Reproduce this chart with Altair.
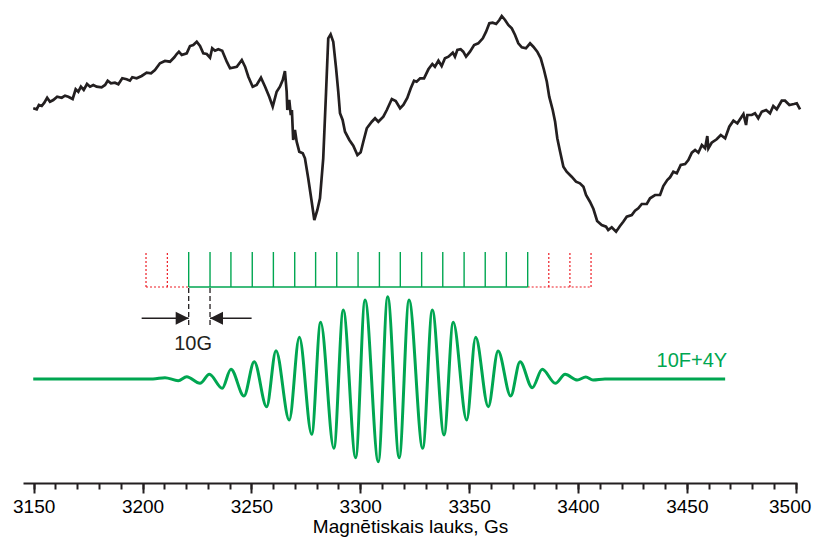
import altair as alt
import pandas as pd

# ---------------- data ----------------
# Experimental EPR spectrum (black): magnetic field (Gs) and signal (arb. units)
exp_field = [
    3149.8, 3151.4, 3152.4, 3153.7, 3154.9, 3156.2, 3157.5, 3159.0, 3160.8, 3162.9,
    3164.4, 3165.9, 3167.9, 3169.3, 3170.5, 3171.7, 3173.0, 3174.5, 3175.9, 3177.4,
    3178.9, 3181.2, 3182.8, 3184.0, 3185.5, 3187.3, 3188.9, 3190.7, 3192.7, 3194.2,
    3195.3, 3197.3, 3199.6, 3201.9, 3203.9, 3205.7, 3208.0, 3210.3, 3212.6, 3214.6,
    3215.7, 3216.7, 3218.0, 3220.3, 3221.8, 3223.3, 3224.9, 3226.4, 3227.9, 3229.5,
    3231.0, 3232.0, 3233.3, 3234.8, 3236.6, 3238.7, 3240.2,
    3243.3, 3245.6, 3247.1, 3248.6, 3250.6, 3252.4, 3254.4, 3256.3, 3258.2, 3259.8,
    3261.6, 3263.1, 3264.4, 3265.4, 3266.2, 3266.5, 3267.4, 3268.1, 3268.6, 3269.2,
    3270.0, 3270.8, 3272.0, 3273.6, 3274.6, 3276.1, 3277.7, 3278.9, 3280.3, 3281.5,
    3283.0, 3284.3, 3285.3, 3286.4, 3287.6, 3288.9, 3289.9, 3290.7, 3291.9, 3293.0,
    3295.0, 3296.8, 3298.7, 3300.2, 3301.4, 3303.0, 3305.3, 3306.8, 3308.3, 3310.6,
    3312.2, 3314.5, 3316.3, 3318.3, 3319.8, 3321.6, 3323.2,
    3324.7, 3325.9, 3327.5, 3329.3, 3331.3, 3333.1, 3334.3, 3335.9, 3337.4, 3338.9,
    3340.5, 3342.5, 3343.5, 3344.6, 3346.1, 3347.3, 3348.6, 3350.4, 3352.3, 3354.2,
    3356.3, 3357.8, 3359.3, 3360.8, 3362.4, 3363.9, 3365.0, 3366.5, 3368.0, 3369.6,
    3371.1, 3372.6, 3374.2, 3376.1, 3378.0, 3379.5, 3381.3, 3382.9, 3384.4, 3385.7,
    3386.8, 3388.4, 3389.5, 3390.5, 3391.8, 3393.3, 3394.8, 3397.1, 3399.1, 3400.9,
    3402.5, 3403.7, 3405.5, 3407.1, 3408.8,
    3410.9, 3412.9, 3413.9, 3415.5, 3417.5, 3419.3, 3420.8, 3422.4, 3424.7, 3426.2,
    3427.7, 3429.3, 3431.6, 3433.1, 3435.4, 3437.7, 3439.2, 3441.0, 3442.3, 3443.8,
    3445.4, 3447.2, 3449.2, 3450.7, 3452.3, 3453.8, 3455.3, 3456.9, 3458.4, 3459.4,
    3459.9, 3461.4, 3463.7, 3465.6, 3467.6, 3469.5, 3471.4, 3473.2, 3476.0, 3477.2,
    3477.8, 3479.8, 3481.3, 3482.8, 3484.4, 3486.4, 3488.2, 3489.7, 3491.3, 3493.6,
    3495.1, 3497.1, 3499.2, 3500.5, 3502.0,
]
exp_signal = [
    374.7, 373.7, 378, 377, 380.3, 385.3, 381.3, 383, 386.3, 385.3,
    387.3, 386.3, 384, 393.7, 391.3, 396.3, 393, 399, 396.3, 398,
    396.3, 395.7, 398, 402.3, 399.7, 400.3, 398.7, 404.7, 403.7, 402.3,
    405.7, 404.7, 407, 410.3, 409.7, 413, 419.7, 422, 421.3, 425.7,
    429, 431.3, 428, 429.7, 437, 438, 441.3, 437, 429.7, 429,
    425.3, 434.7, 432.3, 433.7, 432.3, 421.3, 414.7,
    416.3, 423, 416.3, 406.3, 396.3, 398, 405.3, 396.3, 386.3, 376.3,
    391.3, 396.3, 403, 412, 391.3, 373, 383, 368, 373, 343,
    353, 341.3, 331.3, 329.7, 324.7, 304.7, 281.3, 263, 273, 284.7,
    324.7, 391.3, 444.7, 448.7, 441.3, 414.7, 391.3, 369.7, 363, 351.3,
    343, 337.3, 328, 330.7, 341.3, 354.7, 361.3, 364.7, 361.3, 366.3,
    373, 384, 382, 374.7, 378, 385, 394.7,
    402.3, 401.3, 404.7, 404.7, 413.7, 419, 416.3, 422.3, 417, 424.7,
    426.3, 430.3, 426.3, 433, 433.7, 431.3, 426.3, 431.3, 438, 439.7,
    444.7, 451.3, 459.7, 460.3, 459, 463, 467, 463, 458, 454.7,
    448, 439.7, 435.7, 434.7, 439.7, 436.3, 431.3, 424.7, 413, 401.3,
    386.3, 373, 361.3, 344.7, 331.3, 316.3, 311.3, 306.3, 301.3, 299.7,
    296.3, 288, 281.3, 274, 262,
    258, 256.3, 253, 255.7, 251.3, 257, 261.3, 266.3, 268, 272.3,
    274.7, 279, 279, 284.7, 288, 288, 297, 303, 305.7, 311.3,
    309.7, 318, 319, 323, 330.3, 333, 330.3, 338, 334.7, 347,
    334.7, 340.3, 343.7, 348, 344.7, 356.3, 362.3, 359.7, 369, 358,
    368, 368, 369.7, 364.7, 371.3, 373, 369.7, 377, 373.7, 382.3,
    382.3, 378, 379, 379.7, 373.7,
]

# Simulated spectrum "10F+4Y" (green): extrema
sim_field = [
    3149.8, 3204.8, 3210.3, 3216.4, 3220.3, 3226.4, 3230.7, 3236.6, 3240.6, 3246.6,
    3251.3, 3257.0, 3261.3, 3267.4, 3272.0, 3277.7, 3281.8, 3287.9, 3292.2, 3297.9,
    3302.2, 3308.3, 3312.6, 3317.9, 3322.4, 3328.7, 3333.1, 3338.5, 3342.7, 3348.9,
    3353.0, 3358.8, 3363.3, 3369.1, 3373.4, 3379.0, 3383.6, 3389.6, 3394.1, 3399.7,
    3403.6, 3406.9, 3412.4, 3467.6,
]
sim_signal = [
    104, 104, 105.3, 102.3, 106.3, 99.7, 108.7, 94.7, 113.7, 87,
    121.3, 76.3, 132.3, 63, 145.7, 48.7, 160.7, 34.7, 173, 25.3,
    183, 21.3, 186.3, 25.3, 183, 34.7, 173, 48, 160.7, 63,
    145.7, 76.3, 132, 87, 121.3, 95.3, 113.7, 99.7, 108.7, 103,
    106, 103, 104, 104,
]

# Stick diagram (hyperfine lines)
stick_field = [
    3201.6, 3211.4, 3221.2, 3231.0, 3240.6, 3250.4, 3260.1, 3269.9, 3279.5, 3289.2,
    3299.0, 3308.8, 3318.4, 3328.2, 3337.9, 3347.7, 3357.4, 3367.1, 3376.9, 3386.6,
    3396.3, 3406.0,
]
stick_kind = ["weak"] * 2 + ["main"] * 17 + ["weak"] * 3
stick_base = 196
stick_top = 231

# 10 G marker
marker_field = [3221.2, 3231.0]
marker_low = 158
arrow_level = 164.7
arrow_tail = [3199.6, 3250.1]

major_ticks = [3150, 3200, 3250, 3300, 3350, 3400, 3450, 3500]
minor_ticks = list(range(3150, 3501, 10))

# ---------------- chart ----------------
GREEN = "#00A651"
RED = "#ED1C24"
BLACK = "#231F20"
FONT = "Liberation Sans"

assert len(exp_field) == len(exp_signal), (len(exp_field), len(exp_signal))
assert len(sim_field) == len(sim_signal), (len(sim_field), len(sim_signal))

xs = alt.Scale(domain=[3145.1, 3500.6], nice=False, zero=False)
ys = alt.Scale(domain=[0, 473], nice=False, zero=False)


def X(f, axis=None):
    return alt.X(f"{f}:Q", scale=xs, axis=axis, title=None)


def Y(f):
    return alt.Y(f"{f}:Q", scale=ys, axis=None)


exp_df = pd.DataFrame({"B": exp_field, "S": exp_signal})
sim_df = pd.DataFrame({"B": sim_field, "S": sim_signal})
stick_df = pd.DataFrame({"B": stick_field, "kind": stick_kind,
                         "lo": stick_base, "hi": stick_top})
main_B = [b for b, k in zip(stick_field, stick_kind) if k == "main"]
base_df = pd.DataFrame({
    "a": [stick_field[0], main_B[-1], main_B[0]],
    "b": [main_B[0], stick_field[-1], main_B[-1]],
    "kind": ["weak", "weak", "main"],
    "y": stick_base,
})
dash_df = pd.DataFrame({"B": marker_field, "lo": marker_low, "hi": stick_base})
arrow_df = pd.DataFrame({"a": arrow_tail, "b": marker_field, "y": arrow_level})
tip_df = pd.DataFrame({"B": marker_field, "y": arrow_level,
                       "dir": ["right", "left"]})

major_axis = alt.Axis(
    orient="bottom",
    values=major_ticks, format="d", tickSize=10, tickWidth=2, domainWidth=2,
    labelFontSize=19, labelPadding=4, labelFont=FONT, labelColor="black",
    labelOffset={"condition": {"test": "datum.value == 3500", "value": -6},
                 "value": 0},
    title="Magnētiskais lauks, Gs", titleFontSize=19, titleFont=FONT,
    titleFontWeight="normal", titleColor="black", titlePadding=1, grid=False,
    domainColor=BLACK, tickColor=BLACK,
)
minor_axis = alt.Axis(
    orient="bottom",
    values=minor_ticks, tickSize=6, tickWidth=2, labels=False, grid=False,
    domain=False, tickColor=BLACK,
)

exp_line = alt.Chart(exp_df).mark_line(color=BLACK, strokeWidth=2.7).encode(
    x=alt.X("B:Q", scale=xs, axis=major_axis), y=Y("S"))

sim_line = alt.Chart(sim_df).mark_line(
    color=GREEN, strokeWidth=3, interpolate="monotone").encode(
    x=alt.X("B:Q", scale=xs, axis=minor_axis, title=None), y=Y("S"))

main_sticks = alt.Chart(stick_df).transform_filter(
    alt.datum.kind == "main").mark_rule(color=GREEN, strokeWidth=1.4).encode(
    x=X("B"), y=Y("lo"), y2="hi:Q")
weak_sticks = alt.Chart(stick_df).transform_filter(
    alt.datum.kind == "weak").mark_rule(
    color=RED, strokeWidth=1.2, strokeDash=[2, 2]).encode(
    x=X("B"), y=Y("lo"), y2="hi:Q")

main_base = alt.Chart(base_df).transform_filter(
    alt.datum.kind == "main").mark_rule(color=GREEN, strokeWidth=1.6).encode(
    x=X("a"), x2="b:Q", y=Y("y"))
weak_base = alt.Chart(base_df).transform_filter(
    alt.datum.kind == "weak").mark_rule(
    color=RED, strokeWidth=1.2, strokeDash=[2, 2]).encode(
    x=X("a"), x2="b:Q", y=Y("y"))

dashes = alt.Chart(dash_df).mark_rule(
    color=BLACK, strokeWidth=1.3, strokeDash=[5, 3]).encode(
    x=X("B"), y=Y("lo"), y2="hi:Q")

arrows = alt.Chart(arrow_df).mark_rule(color=BLACK, strokeWidth=1.5).encode(
    x=X("a"), x2="b:Q", y=Y("y"))

tip_r = alt.Chart(tip_df).transform_filter(alt.datum.dir == "right").mark_point(
    shape="M-2,-1L0,0L-2,1Z", filled=True, size=169, color=BLACK, opacity=1,
    strokeWidth=0).encode(x=X("B"), y=Y("y"))
tip_l = alt.Chart(tip_df).transform_filter(alt.datum.dir == "left").mark_point(
    shape="M2,-1L0,0L2,1Z", filled=True, size=169, color=BLACK, opacity=1,
    strokeWidth=0).encode(x=X("B"), y=Y("y"))

label_df = pd.DataFrame({"B": [3223.2], "y": [133], "t": ["10G"]})
label_10g = alt.Chart(label_df).mark_text(
    font=FONT, fontSize=20, color=BLACK, align="center",
    baseline="alphabetic").encode(x=X("B"), y=Y("y"), text="t:N")

sim_label_df = pd.DataFrame({"B": [3468.5], "y": [115.7], "t": ["10F+4Y"]})
label_sim = alt.Chart(sim_label_df).mark_text(
    font=FONT, fontSize=20, color=GREEN, align="right",
    baseline="alphabetic").encode(x=X("B"), y=Y("y"), text="t:N")

chart = alt.layer(
    weak_base, main_base, weak_sticks, main_sticks, dashes, arrows, tip_r, tip_l,
    label_10g, label_sim, sim_line, exp_line,
).resolve_axis(x="independent").properties(
    width=774, height=473,
    autosize=alt.AutoSizeParams(type="none"),
    padding={"left": 15, "top": 2, "right": 15, "bottom": 56},
).configure_view(stroke=None)

chart.save("out.html", embed_options={"renderer": "svg", "actions": False})
